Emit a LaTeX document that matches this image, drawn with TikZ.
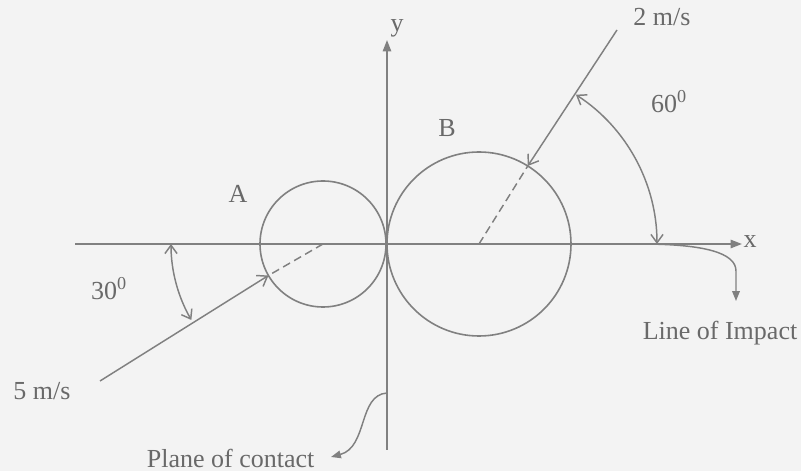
\documentclass[tikz,border=0pt]{standalone}
\usepackage{fontspec}
\setmainfont{Liberation Serif}
\usetikzlibrary{arrows.meta}
\definecolor{lineGray}{RGB}{128,128,128}
\definecolor{textGray}{RGB}{105,105,105}
\definecolor{paperGray}{RGB}{243,243,243}

\begin{document}
\begin{tikzpicture}[x=0.75pt, y=0.75pt,
    axis/.style={draw=lineGray, line width=1.2pt, -{Triangle[length=3mm, width=2.2mm]}},
    ball/.style={circle, draw=lineGray, line width=1.2pt, inner sep=0pt, outer sep=0pt},
    vel/.style={draw=lineGray, line width=1.1pt, -{Straight Barb[length=2.4mm, width=3.4mm]}},
    centreline/.style={draw=lineGray, line width=1.1pt, dash pattern=on 6pt off 3.5pt},
    anglearc/.style={draw=lineGray, line width=1.1pt, {Straight Barb[length=2.2mm, width=3.2mm]}-{Straight Barb[length=2.2mm, width=3.2mm]}},
    pointer/.style={draw=lineGray, line width=1.1pt, -{Triangle[length=2.6mm, width=2mm]}},
    lbl/.style={text=textGray, font=\fontsize{19.5}{23}\selectfont, inner sep=1pt}
  ]
    \fill[paperGray] (0,0) rectangle (801,471);
    \useasboundingbox (0,0) rectangle (801,471);

    \coordinate (O) at (387,227);
    \coordinate (xstart) at (75,227);
    \coordinate (xend) at (742,227);
    \coordinate (ybot) at (387,21);
    \coordinate (ytop) at (387,431);

    \node[ball, minimum size=94.5pt] (A) at (323,227) {};
    \node[ball, minimum size=138pt] (B) at (479,227) {};

    \draw[axis] (xstart) -- (xend);
    \draw[axis] (ybot) -- (ytop);
    \node[lbl] (xlbl) at (750,229) {x};
    \node[lbl] (ylbl) at (397,443) {y};
    \node[lbl] (Albl) at (238,277) {A};
    \node[lbl] (Blbl) at (447,343) {B};

    \coordinate (vAstart) at (100,90);
    \draw[vel] (vAstart) -- (A.210);
    \draw[centreline] (A.center) -- (A.210);
    \node[lbl] (vAlbl) at (42,80) {5 m/s};
    \draw[anglearc] (A.center) ++(180:152) arc[start angle=180, end angle=210, radius=152];
    \node[lbl] (aAlbl) at (109,182) {30\textsuperscript{0}};

    \coordinate (vBstart) at (617,441);
    \draw[vel] (vBstart) -- (B.58);
    \draw[centreline] (B.center) -- (B.58);
    \node[lbl] (vBlbl) at (662,454) {2 m/s};
    \draw[anglearc] (B.center) ++(57:178) arc[start angle=57, end angle=0, radius=178];
    \node[lbl] (aBlbl) at (669,369) {60\textsuperscript{0}};

    \coordinate (impStart) at (640,227);
    \node[lbl] (implbl) at (720,138) {Line of Impact};
    \draw[pointer] (impStart) .. controls (705,227) and (736,218) .. (736,200) -- (736,170);

    \coordinate (planeStart) at (387,78);
    \coordinate (planeTip) at (331,14);
    \node[lbl, anchor=east] (planelbl) at (316,13) {Plane of contact};
    \draw[pointer] (planeStart) .. controls (358,76) and (368,24) .. (planeTip);
  \end{tikzpicture}
\end{document}
